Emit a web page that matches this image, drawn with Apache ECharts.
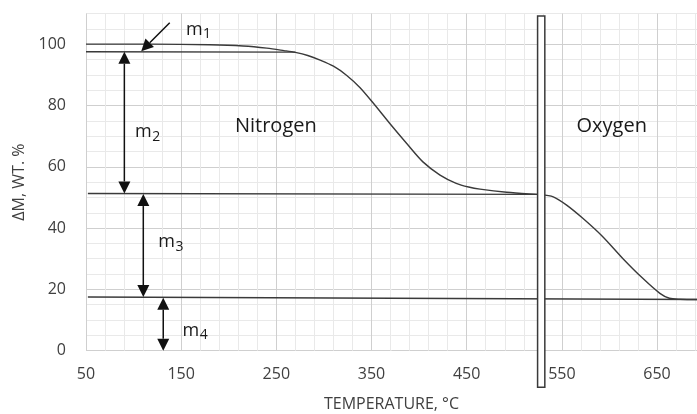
<!DOCTYPE html>
<html><head><meta charset="utf-8">
<script src="https://cdn.jsdelivr.net/npm/echarts@6/dist/echarts.min.js"></script>
<style>html,body{margin:0;padding:0;background:#fff}#c{width:697px;height:414px}</style>
</head><body><div id="c"></div>
<script>
// ---- data (temperature °C, mass %) ----
const xTickLabels = [50, 150, 250, 350, 450, 550, 650];
const yTickLabels = [0, 20, 40, 60, 80, 100];
const nitrogenCurve = [[50,100],[120,100],[180,99.8],[215,99.4],[240,98.7],[258,97.9],[270,97.3],[283,96.3],[296,94.8],[310,92.8],[324,89.8],[338,85.8],[352,80.7],[369,74.2],[387,67.6],[404,61.6],[422,57.3],[439,54.6],[452,53.4],[464,52.7],[492,51.7],[524,51.0],[530,50.9]];
const oxygenCurve = [[528,50.9],[541,50.2],[555,47.5],[572,43.2],[593,37.2],[614,30.1],[635,23.6],[653,18.7],[663,17.1],[674,16.8],[700,16.7]];
const upperBaseline = [[50,97.5],[270,97.4]];
const midBaseline = [[52,51.3],[526,51.0]];
const lowBaseline = [[52,17.5],[700,16.7]];
const switchBar = [[524.5, 109.2, 532.1, -11.9]];            // t1, top, t2, bottom
const arrowLines = [                                           // t1, v1, t2, v2, both heads
  [138, 107.0, 108, 97.7, 0],
  [90.3, 97.5, 90.3, 51.3, 1],
  [110.2, 51.1, 110.2, 17.5, 1],
  [131.2, 17.3, 131.2, 0, 1]
];
const massLabels = [                                          // t, v, subscript
  [155, 104.8, '1'],
  [101.5, 71.4, '2'],
  [126, 35.4, '3'],
  [151.5, 6.6, '4']
];
const atmosphereLabels = [[206.5, 73.2, 'Nitrogen'], [565.4, 73.2, 'Oxygen']];

// ---- chart ----
const T0 = 50; // axis counted from 50 °C
const u = p => [p[0] - T0, p[1]];
const ink = '#3a3a3a';
const txt = '#404040';
const font = "'Open Sans', sans-serif";
const lineSeries = (d, smooth) => ({
  type: 'line', data: d.map(u), showSymbol: false, symbol: 'none', smooth: smooth ? 0.3 : false,
  lineStyle: { color: ink, width: 1.4 }, z: 3, silent: true
});
const ctx = document.createElement('canvas').getContext('2d');
ctx.font = "18px 'Open Sans'";
const mW = ctx.measureText('m').width;

const chart = echarts.init(document.getElementById('c'), null, { renderer: 'canvas' });
chart.setOption({
  animation: false,
  backgroundColor: '#fff',
  grid: { left: 86, right: 0, top: 13.5, bottom: 63.3, containLabel: false, outerBoundsMode: 'none' },
  xAxis: {
    type: 'value', min: 0, max: 642, interval: 20,
    name: 'TEMPERATURE, °C', nameLocation: 'middle', nameGap: 46,
    nameTextStyle: { color: txt, fontSize: 16, fontFamily: font },
    axisLine: { show: false }, axisTick: { show: false },
    axisLabel: { color: txt, fontSize: 16, fontFamily: font, margin: 16, showMaxLabel: false,
      formatter: v => xTickLabels.includes(Math.round(v) + T0) ? String(Math.round(v) + T0) : '' },
    splitLine: { show: true, lineStyle: { width: 1, color: ['#cfcfcf', '#e9e9e9', '#e9e9e9', '#e9e9e9', '#e9e9e9'] } }
  },
  yAxis: {
    type: 'value', min: 0, max: 110, interval: 5,
    name: 'ΔM, WT. %', nameLocation: 'middle', nameGap: 53,
    nameTextStyle: { color: txt, fontSize: 16, fontFamily: font },
    axisLine: { show: false }, axisTick: { show: false },
    axisLabel: { color: txt, fontSize: 16, fontFamily: font, margin: 20,
      formatter: v => yTickLabels.includes(v) ? String(v) : '' },
    splitLine: { show: true, lineStyle: { width: 1, color: ['#cfcfcf', '#e9e9e9', '#e9e9e9', '#e9e9e9'] } }
  },
  series: [
    lineSeries(nitrogenCurve, true),
    lineSeries(oxygenCurve, true),
    lineSeries(upperBaseline, false),
    lineSeries(midBaseline, false),
    lineSeries(lowBaseline, false),
    {
      type: 'custom', clip: false, z: 10, silent: true,
      data: switchBar.map(r => [r[0] - T0, r[1], r[2] - T0, r[3]]),
      encode: { x: [0, 2], y: [1, 3] },
      renderItem: (params, api) => {
        const a = api.coord([api.value(0), api.value(1)]);
        const b = api.coord([api.value(2), api.value(3)]);
        return { type: 'rect', shape: { x: a[0], y: a[1], width: b[0] - a[0], height: b[1] - a[1] },
          style: { fill: '#fff', stroke: ink, lineWidth: 1.5 } };
      }
    },
    {
      type: 'custom', clip: false, z: 11, silent: true,
      data: arrowLines.map(r => [r[0] - T0, r[1], r[2] - T0, r[3], r[4]]),
      encode: { x: [0, 2], y: [1, 3] },
      renderItem: (params, api) => {
        const p1 = api.coord([api.value(0), api.value(1)]);
        const p2 = api.coord([api.value(2), api.value(3)]);
        const both = api.value(4) === 1;
        const dx = p2[0] - p1[0], dy = p2[1] - p1[1];
        const len = Math.hypot(dx, dy), ux = dx / len, uy = dy / len, nx = -uy, ny = ux;
        const L = 12, W = 6;
        const head = (tip, sx, sy) => ({ type: 'polygon', shape: { points: [
          tip, [tip[0] - sx * L + nx * W, tip[1] - sy * L + ny * W], [tip[0] - sx * L - nx * W, tip[1] - sy * L - ny * W]] },
          style: { fill: '#111' } });
        const s = both ? [p1[0] + ux * L, p1[1] + uy * L] : p1;
        const e = [p2[0] - ux * L, p2[1] - uy * L];
        const children = [{ type: 'line', shape: { x1: s[0], y1: s[1], x2: e[0], y2: e[1] }, style: { stroke: '#111', lineWidth: 1.5 } },
          head(p2, ux, uy)];
        if (both) children.push(head(p1, -ux, -uy));
        return { type: 'group', children };
      }
    },
    {
      type: 'custom', clip: false, z: 12, silent: true,
      data: massLabels.map(r => [r[0] - T0, r[1], r[2]]),
      encode: { x: 0, y: 1 },
      renderItem: (params, api) => {
        const p = api.coord([api.value(0), api.value(1)]);
        const sub = massLabels[params.dataIndex][2];
        return { type: 'group', children: [
          { type: 'text', x: p[0], y: p[1], style: { text: 'm', fill: '#1a1a1a', font: "18px 'Open Sans'", textAlign: 'left', textVerticalAlign: 'middle' } },
          { type: 'text', x: p[0] + mW + 0.5, y: p[1] + 5, style: { text: sub, fill: '#1a1a1a', font: "14px 'Open Sans'", textAlign: 'left', textVerticalAlign: 'middle' } }
        ] };
      }
    },
    {
      type: 'custom', clip: false, z: 12, silent: true,
      data: atmosphereLabels.map(r => [r[0] - T0, r[1]]),
      encode: { x: 0, y: 1 },
      renderItem: (params, api) => {
        const p = api.coord([api.value(0), api.value(1)]);
        return { type: 'text', x: p[0], y: p[1], style: { text: atmosphereLabels[params.dataIndex][2], fill: '#1a1a1a',
          font: "20px 'Open Sans'", textAlign: 'left', textVerticalAlign: 'middle' } };
      }
    }
  ]
});
</script></body></html>
